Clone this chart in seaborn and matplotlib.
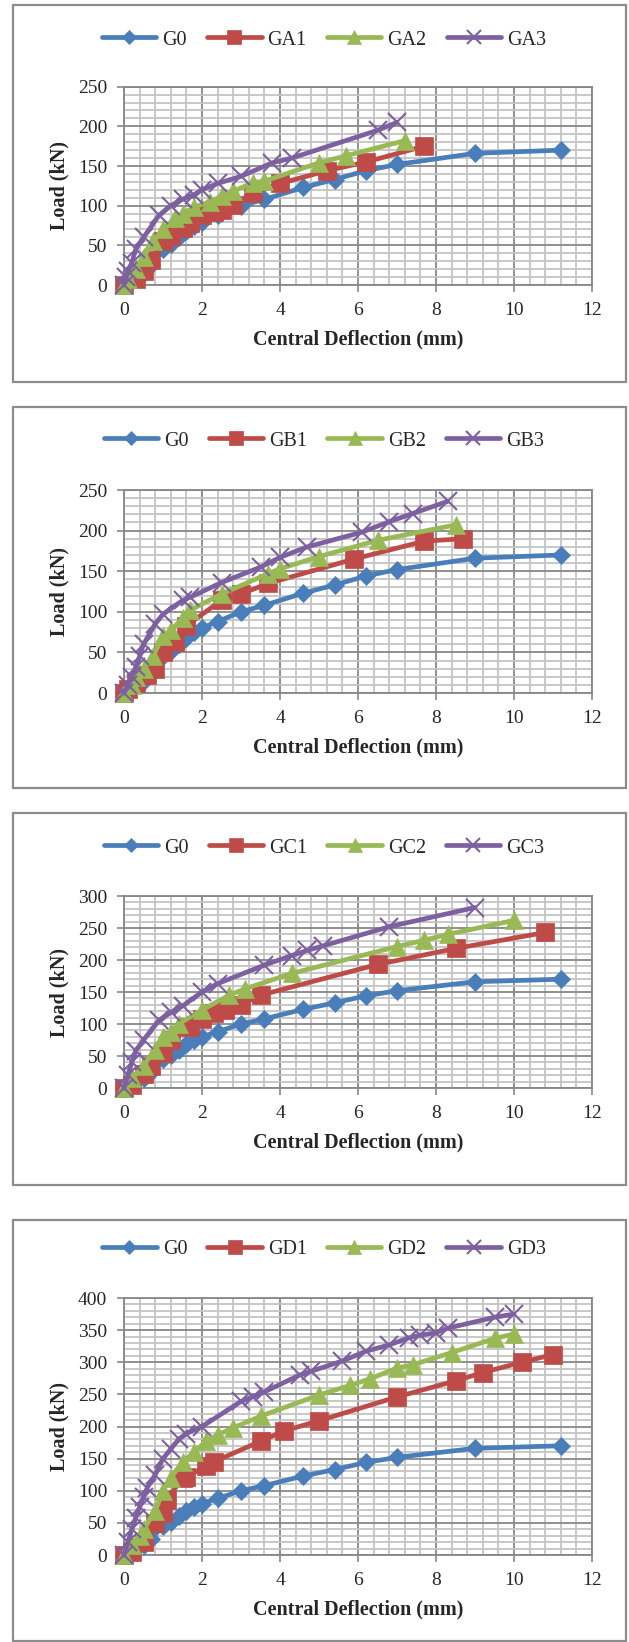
import matplotlib
matplotlib.use("Agg")
import matplotlib.pyplot as plt
from matplotlib.patches import Rectangle
from matplotlib.ticker import MultipleLocator
import seaborn as sns

# ---------------- data ----------------
G0_x = [0, 0.2, 0.5, 0.7, 1.0, 1.2, 1.4, 1.6, 1.8, 2.0, 2.4, 3.0, 3.6, 4.6, 5.4, 6.2, 7.0, 9.0, 11.2]
G0_y = [0, 5, 15, 25, 45, 52, 60, 68, 75, 80, 88, 100, 108, 123, 133, 144, 152, 166, 170]

GA1_x = [0, 0.3, 0.5, 0.7, 1.0, 1.2, 1.5, 1.7, 2.0, 2.3, 2.5, 2.8, 3.3, 4.0, 5.2, 6.2, 7.7]
GA1_y = [0, 8, 18, 32, 55, 62, 72, 78, 88, 92, 95, 101, 116, 128, 144, 155, 175]
GA2_x = [0, 0.1, 0.3, 0.5, 0.75, 1.0, 1.3, 1.5, 1.8, 2.2, 2.5, 2.8, 3.3, 3.6, 5.0, 5.7, 7.2]
GA2_y = [0, 8, 20, 35, 55, 70, 84, 90, 98, 105, 112, 118, 129, 131, 154, 163, 182]
GA3_x = [0, 0.05, 0.1, 0.2, 0.3, 0.5, 0.9, 1.2, 1.5, 1.8, 2.0, 2.4, 3.0, 3.8, 4.3, 6.5, 7.0]
GA3_y = [0, 10, 18, 28, 45, 60, 88, 100, 108, 114, 120, 128, 137, 154, 160, 195, 205]

GB1_x = [0, 0.1, 0.3, 0.6, 0.8, 1.0, 1.3, 1.6, 2.5, 3.0, 3.7, 5.9, 7.7, 8.7]
GB1_y = [0, 5, 12, 22, 30, 50, 63, 83, 114, 122, 135, 165, 187, 190]
GB2_x = [0, 0.2, 0.3, 0.5, 0.75, 1.0, 1.2, 1.5, 1.7, 2.5, 3.7, 4.0, 5.0, 6.5, 8.5]
GB2_y = [0, 10, 20, 30, 46, 70, 77, 92, 102, 122, 147, 153, 168, 188, 207]
GB3_x = [0, 0.1, 0.2, 0.3, 0.4, 0.5, 0.8, 1.0, 1.5, 1.7, 2.5, 3.5, 4.0, 4.7, 6.1, 6.8, 7.4, 8.3]
GB3_y = [0, 10, 20, 32, 45, 60, 85, 97, 114, 118, 136, 155, 167, 180, 198, 211, 221, 236]

GC1_x = [0, 0.2, 0.5, 0.7, 1.0, 1.2, 1.7, 2.0, 2.3, 2.6, 3.0, 3.5, 6.5, 8.5, 10.8]
GC1_y = [0, 5, 22, 35, 55, 75, 95, 108, 117, 122, 130, 145, 193, 218, 243]
GC2_x = [0, 0.2, 0.5, 0.8, 1.0, 1.2, 1.4, 2.0, 2.7, 3.1, 4.3, 7.0, 7.7, 8.3, 10.0]
GC2_y = [0, 15, 35, 60, 80, 88, 100, 122, 145, 155, 179, 221, 231, 240, 262]
GC3_x = [0, 0.1, 0.2, 0.3, 0.5, 0.9, 1.2, 1.5, 2.0, 2.4, 3.6, 4.3, 4.7, 5.1, 6.8, 9.0]
GC3_y = [0, 20, 40, 58, 75, 106, 118, 128, 150, 163, 192, 207, 215, 222, 252, 282]

GD1_x = [0, 0.2, 0.5, 0.8, 1.0, 1.1, 1.5, 1.6, 2.1, 2.3, 3.5, 4.1, 5.0, 7.0, 8.5, 9.2, 10.2, 11.0]
GD1_y = [0, 5, 20, 50, 65, 86, 120, 122, 138, 145, 177, 193, 209, 246, 271, 284, 300, 312]
GD2_x = [0, 0.2, 0.4, 0.5, 0.8, 1.0, 1.2, 1.5, 1.8, 2.1, 2.4, 2.8, 3.5, 5.0, 5.8, 6.3, 7.0, 7.4, 8.4, 9.5, 10.0]
GD2_y = [0, 15, 30, 40, 68, 100, 120, 145, 160, 177, 187, 198, 216, 249, 264, 274, 291, 296, 315, 337, 344]
GD3_x = [0, 0.1, 0.2, 0.3, 0.4, 0.5, 0.6, 0.8, 1.0, 1.2, 1.4, 1.6, 2.0, 3.0, 3.3, 3.6, 4.5, 4.8, 5.6, 6.2,
         6.8, 7.3, 7.6, 8.0, 8.3, 9.5, 10.0]
GD3_y = [0, 20, 40, 58, 75, 90, 105, 125, 150, 165, 180, 189, 200, 239, 246, 254, 280, 286, 302, 317,
         327, 338, 342, 346, 353, 370, 375]

panels = [
    (["G0", "GA1", "GA2", "GA3"], [(G0_x, G0_y), (GA1_x, GA1_y), (GA2_x, GA2_y), (GA3_x, GA3_y)], 250),
    (["G0", "GB1", "GB2", "GB3"], [(G0_x, G0_y), (GB1_x, GB1_y), (GB2_x, GB2_y), (GB3_x, GB3_y)], 250),
    (["G0", "GC1", "GC2", "GC3"], [(G0_x, G0_y), (GC1_x, GC1_y), (GC2_x, GC2_y), (GC3_x, GC3_y)], 300),
    (["G0", "GD1", "GD2", "GD3"], [(G0_x, G0_y), (GD1_x, GD1_y), (GD2_x, GD2_y), (GD3_x, GD3_y)], 400),
]

# ---------------- style ----------------
sns.set_style("white")
plt.rcParams["font.family"] = ["Liberation Serif", "DejaVu Serif"]

colors = ["#4A7EBB", "#BE4B48", "#98B954", "#7D60A0"]
markers = ["D", "s", "^", "x"]
msizes = [9.5, 12.5, 13, 13.5]

W, H = 629, 1642
fig = plt.figure(figsize=(W / 100, H / 100), dpi=100)

# layout in pixels: (box_top, box_bottom, ax_top, ax_bottom, legend_y)
layout = [
    (5, 382, 86.7, 285, 40),
    (407, 788, 490, 693, 441),
    (813, 1185, 896, 1088, 848),
    (1220, 1641, 1298, 1555, 1249),
]
AX_L, AX_R = 124, 592
BOX_L, BOX_R = 13, 626

MAJOR_GRID = "#878787"
MINOR_GRID = "#C4C4C4"

for (names, series, ymax), (bt, bb, at, ab, ly) in zip(panels, layout):
    # panel border
    fig.add_artist(Rectangle((BOX_L / W, 1 - bb / H), (BOX_R - BOX_L) / W, (bb - bt) / H,
                             transform=fig.transFigure, fill=False, edgecolor="#8C8C8C",
                             linewidth=1.6, zorder=0))
    ax = fig.add_axes([AX_L / W, 1 - ab / H, (AX_R - AX_L) / W, (ab - at) / H])
    ax.set_facecolor("white")

    for i, (name, (xs, ys)) in enumerate(zip(names, series)):
        kw = dict(marker=markers[i], markersize=msizes[i], color=colors[i], linewidth=3.4,
                  markeredgecolor=colors[i], label=name, sort=False, estimator=None,
                  clip_on=False, zorder=3 + i)
        if markers[i] == "x":
            kw["markeredgewidth"] = 1.5
        else:
            kw["markeredgewidth"] = 0.5
            kw["markerfacecolor"] = colors[i]
        sns.lineplot(x=xs, y=ys, ax=ax, **kw)

    ax.set_xlim(0, 12)
    ax.set_ylim(0, ymax)
    ax.xaxis.set_major_locator(MultipleLocator(2))
    ax.xaxis.set_minor_locator(MultipleLocator(0.4))
    ax.yaxis.set_major_locator(MultipleLocator(50))
    ax.yaxis.set_minor_locator(MultipleLocator(10))
    ax.grid(which="minor", color=MINOR_GRID, linewidth=1.3, zorder=0)
    ax.grid(which="major", color=MAJOR_GRID, linewidth=1.3, zorder=1)
    ax.set_axisbelow(True)
    for sp in ax.spines.values():
        sp.set_color(MAJOR_GRID)
        sp.set_linewidth(1.3)
    ax.tick_params(which="major", direction="out", length=5, width=1.2, color=MAJOR_GRID,
                   labelsize=14, pad=7, left=True, bottom=True)
    ax.tick_params(which="minor", length=0)

    ax.set_xlabel("Central Deflection (mm)", fontsize=14.5, fontweight="bold")
    ax.set_ylabel("Load (kN)", fontsize=14.5, fontweight="bold")
    hpx = ab - at
    ax.xaxis.label.set_va("center")
    ax.xaxis.set_label_coords(0.5, -54 / hpx)
    ax.yaxis.label.set_va("center")
    ax.yaxis.set_label_coords(-(AX_L - 59) / (AX_R - AX_L), 0.5)

    handles, labels = ax.get_legend_handles_labels()
    if ax.get_legend() is not None:
        ax.get_legend().remove()
    fig.legend(handles, labels, loc="center", bbox_to_anchor=(324 / W, 1 - ly / H), ncol=4,
               frameon=False, fontsize=14.5, handlelength=2.7, handletextpad=0.3,
               columnspacing=1.0, markerscale=0.75, borderaxespad=0)

fig.savefig("out.png", dpi=100, facecolor="white")
